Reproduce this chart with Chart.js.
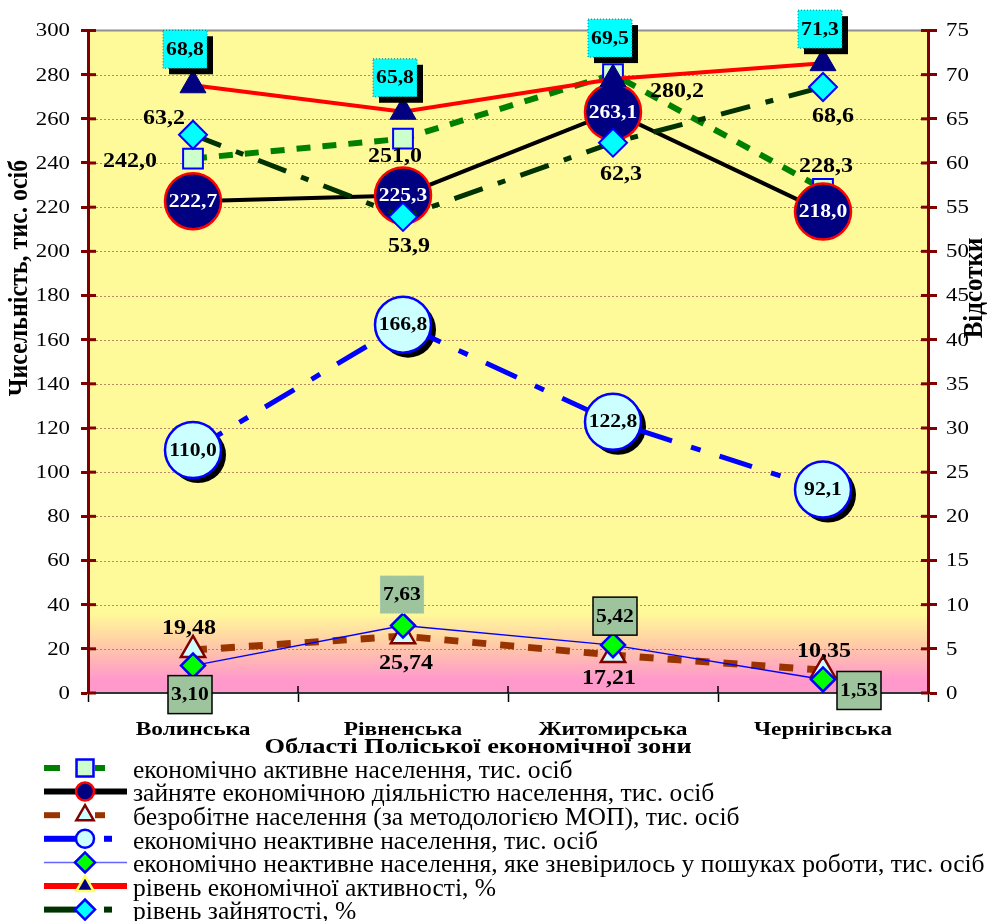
<!DOCTYPE html>
<html><head><meta charset="utf-8">
<script src="https://cdn.jsdelivr.net/npm/chart.js@4.4.1/dist/chart.umd.min.js"></script>
<style>html,body{margin:0;padding:0;background:#fff;}canvas{display:block;}</style>
</head><body>
<canvas id="c" width="987" height="921"></canvas>
<script>
// ---- data ----
const categories = ['Волинська', 'Рівненська', 'Житомирська', 'Чернігівська'];
const econActive = [242.0, 251.0, 280.2, 228.3];
const employed = [222.7, 225.3, 263.1, 218.0];
const unemployed = [19.48, 25.74, 17.21, 10.35];
const inactive = [110.0, 166.8, 122.8, 92.1];
const discouraged = [3.10, 7.63, 5.42, 1.53];
const activityRate = [68.8, 65.8, 69.5, 71.3];
const employmentRate = [63.2, 53.9, 62.3, 68.6];
const leftTicks = [0, 20, 40, 60, 80, 100, 120, 140, 160, 180, 200, 220, 240, 260, 280, 300];
const rightTicks = [0, 5, 10, 15, 20, 25, 30, 35, 40, 45, 50, 55, 60, 65, 70, 75];
const seriesNames = [
  'економічно активне населення, тис. осіб',
  'зайняте економічною діяльністю населення, тис. осіб',
  'безробітне населення (за методологією МОП), тис. осіб',
  'економічно неактивне населення, тис. осіб',
  'економічно неактивне населення, яке зневірилось у пошуках роботи, тис. осіб',
  'рівень економічної активності, %',
  'рівень зайнятості, %'
];
const leftAxisTitle = 'Чисельність, тис. осіб';
const rightAxisTitle = 'Відсотки';
const xAxisTitle = 'Області Поліської економічної зони';

// ---- styles / label placement ----
const FF = '"Liberation Serif", "Times New Roman", serif';
const SX = 1.2;
const fmt = (v, d) => v.toFixed(d).replace('.', ',');
const lblActivity = [[-8,-36],[-8,-34],[-3,-41],[-3,-34]];
const lblEmployment = [[-29,-17],[6,29],[8,31],[10,29]];
const lblEconActive = [[-63,2],[-8,17],[64,17],[3,-23]];
const lblUnemployed = [[-4,-22],[3,27],[-4,23],[1,-19]];
const lblDiscouraged = [[-3,29],[-1,-31],[2,-29],[36,11]];

function txt(ctx, s, x, y, size, color, weight, align, sx) {
  ctx.save();
  ctx.font = (weight || 'bold') + ' ' + size + 'px ' + FF;
  ctx.fillStyle = color;
  ctx.textAlign = align || 'center';
  ctx.textBaseline = 'middle';
  ctx.translate(x, y + 1);
  ctx.scale(sx || SX, 1);
  ctx.fillText(s, 0, 0);
  ctx.restore();
}
function box(ctx, cx, cy, w, h, fill, stroke, shadow, dotted) {
  if (shadow) { ctx.fillStyle = '#000'; ctx.fillRect(cx - w/2 + 6, cy - h/2 + 6, w, h); }
  ctx.fillStyle = fill; ctx.fillRect(cx - w/2, cy - h/2, w, h);
  ctx.save();
  ctx.lineWidth = dotted ? 1 : 1.5;
  ctx.strokeStyle = stroke;
  if (dotted) ctx.setLineDash([1,2]);
  ctx.strokeRect(cx - w/2, cy - h/2, w, h);
  ctx.restore();
}

const decor = {
  id: 'decor',
  beforeDraw(chart) {
    const {ctx, chartArea: a, scales} = chart;
    ctx.save();
    ctx.fillStyle = '#fff'; ctx.fillRect(0, 0, chart.width, chart.height);
    const y0 = scales.y.getPixelForValue(36), y1 = scales.y.getPixelForValue(6);
    const g = ctx.createLinearGradient(0, y0, 0, y1);
    g.addColorStop(0, '#FFFA99');
    g.addColorStop(0.5, '#FFC8A8');
    g.addColorStop(1, '#FF99CC');
    ctx.fillStyle = g;
    ctx.fillRect(a.left, a.top, a.right - a.left, a.bottom - a.top);
    ctx.strokeStyle = 'rgba(170,100,80,0.75)';
    ctx.lineWidth = 1;
    ctx.setLineDash([2, 2]);
    for (const v of leftTicks) {
      if (v === 0 || v === 300) continue;
      const y = Math.round(scales.y.getPixelForValue(v)) + 0.5;
      ctx.beginPath(); ctx.moveTo(a.left, y); ctx.lineTo(a.right, y); ctx.stroke();
    }
    ctx.setLineDash([]);
    ctx.strokeStyle = '#909090'; ctx.lineWidth = 2;
    ctx.beginPath(); ctx.moveTo(a.left, a.top); ctx.lineTo(a.right, a.top); ctx.stroke();
    ctx.restore();
  },
  afterDraw(chart) {
    const {ctx, chartArea: a, scales} = chart;
    ctx.save();
    // inner tick stubs
    ctx.strokeStyle = '#800000'; ctx.lineWidth = 3;
    for (const v of leftTicks) {
      const y = scales.y.getPixelForValue(v);
      ctx.beginPath(); ctx.moveTo(a.left, y); ctx.lineTo(a.left + 8, y); ctx.stroke();
      txt(ctx, String(v), 70, y, 19, '#000', 'normal', 'right');
    }
    for (const v of rightTicks) {
      const y = scales.y1.getPixelForValue(v);
      ctx.beginPath(); ctx.moveTo(a.right - 7, y); ctx.lineTo(a.right, y); ctx.stroke();
      txt(ctx, String(v), 946, y, 19, '#000', 'normal', 'left');
    }
    ctx.strokeStyle = '#000'; ctx.lineWidth = 1.5;
    const step = (a.right - a.left) / categories.length;
    for (let i = 1; i < categories.length; i++) {
      const x = a.left + i * step;
      ctx.beginPath(); ctx.moveTo(x, a.bottom - 7); ctx.lineTo(x, a.bottom); ctx.stroke();
    }
    categories.forEach((c, i) => {
      txt(ctx, c, scales.x.getPixelForValue(i), 729, 19.5, '#000', 'bold');
    });

    // data labels
    const pt = (di, i) => chart.getDatasetMeta(di).data[i];
    for (let i = 0; i < categories.length; i++) {
      let p;
      p = pt(0, i); txt(ctx, fmt(econActive[i], 1), p.x + lblEconActive[i][0], p.y + lblEconActive[i][1], 20, '#000');
      p = pt(1, i); txt(ctx, fmt(employed[i], 1), p.x, p.y, 18, '#fff');
      p = pt(2, i); txt(ctx, fmt(unemployed[i], 2), p.x + lblUnemployed[i][0], p.y + lblUnemployed[i][1], 20, '#000');
      p = pt(3, i); txt(ctx, fmt(inactive[i], 1), p.x, p.y, 18, '#000');
      p = pt(4, i);
      {
        const cx = p.x + lblDiscouraged[i][0], cy = p.y + lblDiscouraged[i][1];
        const dotted = i === 1;
        box(ctx, cx, cy, 44, 38, '#9DC49D', dotted ? '#E0E0E0' : '#000', false, dotted);
        txt(ctx, fmt(discouraged[i], 2), cx, cy, 18, '#000');
      }
      p = pt(5, i);
      {
        const cx = p.x + lblActivity[i][0], cy = p.y + lblActivity[i][1];
        box(ctx, cx, cy, 44, 38, '#00FFFF', '#008080', true, true);
        txt(ctx, fmt(activityRate[i], 1), cx, cy, 18, '#000');
      }
      p = pt(6, i); txt(ctx, fmt(employmentRate[i], 1), p.x + lblEmployment[i][0], p.y + lblEmployment[i][1], 20, '#000');
    }

    // axis titles
    ctx.font = 'bold 24px ' + FF; ctx.fillStyle = '#000';
    ctx.textAlign = 'center'; ctx.textBaseline = 'middle';
    ctx.save(); ctx.translate(20, 278); ctx.rotate(-Math.PI/2); ctx.scale(1, 1.1); ctx.fillText(leftAxisTitle, 0, 0); ctx.restore();
    ctx.font = 'bold 25px ' + FF;
    ctx.save(); ctx.translate(975, 288); ctx.rotate(-Math.PI/2); ctx.scale(1, 1.1); ctx.fillText(rightAxisTitle, 0, 0); ctx.restore();
    txt(ctx, xAxisTitle, 478, 746, 22, '#000', 'bold');

    // legend
    const ds = chart.data.datasets;
    ctx.font = '20px ' + FF;
    const wMax = ctx.measureText(seriesNames[4]).width;
    const fs = 20 * 852 / wMax;
    for (let k = 0; k < seriesNames.length; k++) {
      const ry = 768 + k * 23.6;
      const d = ds[k];
      ctx.save();
      ctx.lineCap = 'butt';
      ctx.strokeStyle = d.borderColor;
      ctx.lineWidth = k === 4 ? 1.5 : 6;
      const seg = (x1, x2) => { ctx.beginPath(); ctx.moveTo(x1, ry); ctx.lineTo(x2, ry); ctx.stroke(); };
      if (k === 0 || k === 2) { seg(44, 60); seg(95, 105); }
      else if (k === 3 || k === 6) { seg(44, 76); seg(104, 112); }
      else if (k === 4) { ctx.strokeStyle = '#6666FF'; seg(44, 127); }
      else { seg(44, 127); }
      ctx.restore();
      const r = k === 0 ? 12 : (k === 1 || k === 3 ? 9 : 10);
      ctx.save();
      ctx.fillStyle = d.pointBackgroundColor;
      ctx.strokeStyle = k === 5 ? '#FFFF66' : d.pointBorderColor;
      ctx.lineWidth = 2.5;
      Chart.helpers.drawPoint(ctx, {pointStyle: d.pointStyle, radius: r, borderWidth: 2.5, rotation: 0}, 85, ry);
      ctx.restore();
      ctx.save();
      ctx.font = fs.toFixed(2) + 'px ' + FF; ctx.fillStyle = '#000';
      ctx.textAlign = 'left'; ctx.textBaseline = 'middle';
      ctx.fillText(seriesNames[k], 133, ry + 3);
      ctx.restore();
    }
    ctx.restore();
  },
  beforeDatasetDraw(chart, args) {
    if (args.index !== 3) return;
    const {ctx} = chart;
    ctx.save();
    ctx.fillStyle = '#000';
    for (const el of args.meta.data) {
      ctx.beginPath(); ctx.arc(el.x + 5, el.y + 5, 28, 0, Math.PI * 2); ctx.fill();
    }
    ctx.restore();
  }
};

const common = { tension: 0, fill: false, clip: false };
new Chart(document.getElementById('c'), {
  type: 'line',
  data: {
    labels: categories,
    datasets: [
      { ...common, label: seriesNames[0], data: econActive, yAxisID: 'y', borderColor: '#008000', borderWidth: 6, borderDash: [14, 12],
        pointStyle: 'rect', pointRadius: 14, pointBackgroundColor: '#CCFFCC', pointBorderColor: '#0000FF', pointBorderWidth: 2, order: 7 },
      { ...common, label: seriesNames[1], data: employed, yAxisID: 'y', borderColor: '#000000', borderWidth: 4,
        pointStyle: 'circle', pointRadius: 28, pointBackgroundColor: '#000080', pointBorderColor: '#FF0000', pointBorderWidth: 2.5, order: 6 },
      { ...common, label: seriesNames[2], data: unemployed, yAxisID: 'y', borderColor: '#993300', borderWidth: 7, borderDash: [14, 14],
        pointStyle: 'triangle', pointRadius: 14, pointBackgroundColor: '#CCFFFF', pointBorderColor: '#800000', pointBorderWidth: 2.5, order: 5 },
      { ...common, label: seriesNames[3], data: inactive, yAxisID: 'y', borderColor: '#0000FF', borderWidth: 5, borderDash: [34, 20, 10, 20],
        pointStyle: 'circle', pointRadius: 28, pointBackgroundColor: '#CCFFFF', pointBorderColor: '#0000FF', pointBorderWidth: 2.5, order: 4 },
      { ...common, label: seriesNames[4], data: discouraged, yAxisID: 'y1', borderColor: '#0000FF', borderWidth: 1.5,
        pointStyle: 'rectRot', pointRadius: 12, pointBackgroundColor: '#00FF00', pointBorderColor: '#0000FF', pointBorderWidth: 2.5, order: 3 },
      { ...common, label: seriesNames[5], data: activityRate, yAxisID: 'y1', borderColor: '#FF0000', borderWidth: 4,
        pointStyle: 'triangle', pointRadius: 15, pointBackgroundColor: '#000080', pointBorderColor: '#000080', pointBorderWidth: 1, order: 2 },
      { ...common, label: seriesNames[6], data: employmentRate, yAxisID: 'y1', borderColor: '#003300', borderWidth: 5, borderDash: [30, 16, 8, 16],
        pointStyle: 'rectRot', pointRadius: 14, pointBackgroundColor: '#00FFFF', pointBorderColor: '#0000FF', pointBorderWidth: 2, order: 1 }
    ]
  },
  options: {
    responsive: false,
    devicePixelRatio: 1,
    animation: false,
    events: [],
    layout: { padding: { top: 30, left: 0, right: 0, bottom: 0 } },
    plugins: { legend: { display: false }, tooltip: { enabled: false }, title: { display: false } },
    scales: {
      x: {
        type: 'category', offset: true,
        grid: { offset: true, drawOnChartArea: false, drawTicks: true, tickLength: 9, tickColor: '#000', tickWidth: 1.5 },
        border: { color: '#333333', width: 2 },
        ticks: { display: false },
        afterFit: s => { s.height = 228; }
      },
      y: {
        position: 'left', min: 0, max: 300,
        grid: { drawOnChartArea: false, drawTicks: true, tickLength: 7, tickColor: '#800000', tickWidth: 3 },
        border: { color: '#800000', width: 3 },
        ticks: { stepSize: 20, display: false },
        afterFit: s => { s.width = 88; }
      },
      y1: {
        position: 'right', min: 0, max: 75,
        grid: { drawOnChartArea: false, drawTicks: true, tickLength: 9, tickColor: '#800000', tickWidth: 3 },
        border: { color: '#800000', width: 3 },
        ticks: { stepSize: 5, display: false },
        afterFit: s => { s.width = 59; }
      }
    }
  },
  plugins: [decor]
});
</script>
</body></html>
